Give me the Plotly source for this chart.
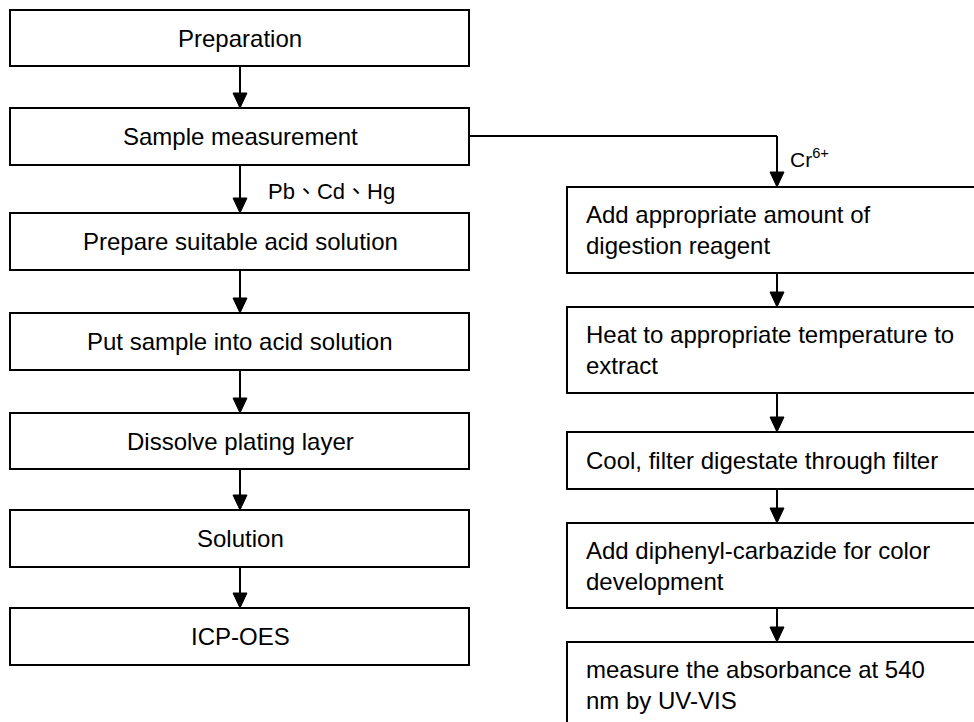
import plotly.graph_objects as go

# ---- content ----
left_labels = [
    "Preparation",
    "Sample measurement",
    "Prepare suitable acid solution",
    "Put sample into acid solution",
    "Dissolve plating layer",
    "Solution",
    "ICP-OES",
]
right_labels = [
    "Add appropriate amount of<br>digestion reagent",
    "Heat to appropriate temperature to<br>extract",
    "Cool, filter digestate through filter",
    "Add diphenyl-carbazide for color<br>development",
    "measure the absorbance at 540<br>nm by UV-VIS",
]
branch_left_parts = ["Pb", "Cd", "Hg"]
branch_sep = "\u3001"
branch_right_label = "Cr<sup>6+</sup>"

# ---- layout geometry (pixels) ----
W, H = 974, 722
L_X0, L_X1 = 10, 469
L_CX = 240
L_TOPS = [10, 108, 213, 313, 413, 510, 608]
L_BOTS = [66, 165, 270, 370, 469, 567, 665]

R_X0, R_X1 = 567, 990
R_CX = 777
R_TX = 584
R_TOPS = [187, 307, 432, 523, 642]
R_BOTS = [273, 393, 489, 608, 760]

CONN_Y = 136
LW = 2
AH_W, AH_H = 7, 15
FONT = "Liberation Sans, Arial, sans-serif"

fig = go.Figure()
shapes = []
annotations = []


def box(x0, y0, x1, y1):
    shapes.append(dict(type="rect", xref="x", yref="y", x0=x0, x1=x1, y0=y0, y1=y1,
                       line=dict(color="black", width=LW), fillcolor="white", layer="below"))


def line(x0, y0, x1, y1):
    shapes.append(dict(type="line", xref="x", yref="y", x0=x0, x1=x1, y0=y0, y1=y1,
                       line=dict(color="black", width=LW)))


def arrow_head(x, y):
    path = f"M {x - AH_W},{y - AH_H} L {x + AH_W},{y - AH_H} L {x},{y} Z"
    shapes.append(dict(type="path", xref="x", yref="y", path=path,
                       fillcolor="black", line=dict(color="black", width=1)))


def arrow(x, y0, y1):
    line(x, y0, x, y1 - AH_H + 1)
    arrow_head(x, y1)


# left column
for i, lab in enumerate(left_labels):
    box(L_X0, L_TOPS[i], L_X1, L_BOTS[i])
    annotations.append(dict(x=L_CX, y=(L_TOPS[i] + L_BOTS[i]) / 2, xref="x", yref="y",
                            text=lab, showarrow=False, xanchor="center", yanchor="middle",
                            font=dict(family=FONT, size=24, color="black")))
    if i < len(left_labels) - 1:
        arrow(L_CX, L_BOTS[i], L_TOPS[i + 1])

# right column
for i, lab in enumerate(right_labels):
    box(R_X0, R_TOPS[i], R_X1, R_BOTS[i])
    bot = min(R_BOTS[i], R_TOPS[i] + 86)
    annotations.append(dict(x=R_TX, y=(R_TOPS[i] + bot) / 2, xref="x", yref="y",
                            text=lab, showarrow=False, xanchor="left", yanchor="middle",
                            align="left",
                            font=dict(family=FONT, size=24, color="black")))
    if i < len(right_labels) - 1:
        arrow(R_CX, R_BOTS[i], R_TOPS[i + 1])

# connector from "Sample measurement" to right column
line(L_X1, CONN_Y, R_CX, CONN_Y)
arrow(R_CX, CONN_Y, R_TOPS[0])

sep_html = "<span style=\"font-family:'Noto Sans CJK TC'\">" + branch_sep + "</span>"
branch_left_label = sep_html.join(branch_left_parts)
annotations.append(dict(x=266, y=189, xref="x", yref="y", text=branch_left_label,
                        showarrow=False, xanchor="left", yanchor="middle",
                        font=dict(family=FONT, size=22, color="black")))
annotations.append(dict(x=788, y=158, xref="x", yref="y", text=branch_right_label,
                        showarrow=False, xanchor="left", yanchor="middle",
                        font=dict(family=FONT, size=21, color="black")))

fig.update_layout(
    width=W, height=H,
    margin=dict(l=0, r=0, t=0, b=0),
    paper_bgcolor="white", plot_bgcolor="white",
    xaxis=dict(range=[0, W], visible=False, fixedrange=True),
    yaxis=dict(range=[H, 0], visible=False, fixedrange=True),
    shapes=shapes,
    annotations=annotations,
    showlegend=False,
)

fig.write_html("out.html", config={"displayModeBar": False},
               post_script="document.body.style.margin='0';document.body.style.padding='0';")
